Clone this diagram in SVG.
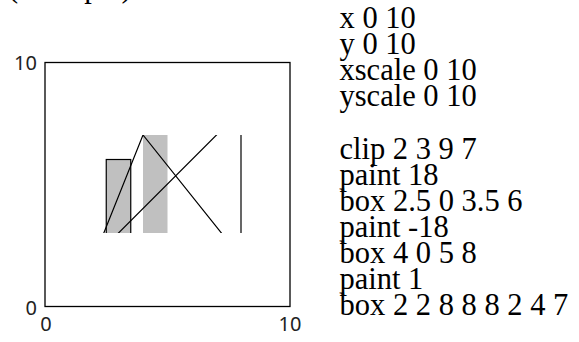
<svg xmlns="http://www.w3.org/2000/svg" width="579" height="342" viewBox="0 0 579 342">
<style>
.ax{font-family:"Noto Sans","DejaVu Sans",sans-serif;font-size:20px;fill:#222}
.cmd{font-family:"Liberation Serif","Times New Roman",serif;font-size:30.5px;fill:#000}
.fill{fill:#c0c0c0}
</style>
<defs>
<clipPath id="clip"><rect x="94" y="135" width="171.5" height="98"/></clipPath>
</defs>
<rect width="579" height="342" fill="#fff"/>
<text class="cmd" x="8" y="-3.5" font-size="32">(example)</text>
<g id="frame">
<rect x="45" y="62.5" width="245" height="244" fill="none" stroke="#000" stroke-width="1.3"/>
<text class="ax" x="37" y="70" text-anchor="end">10</text>
<text class="ax" x="37" y="315" text-anchor="end">0</text>
<text class="ax" x="46" y="331" text-anchor="middle">0</text>
<text class="ax" x="290" y="331" text-anchor="middle">10</text>
</g>
<g id="plot" clip-path="url(#clip)">
<rect id="box1" class="fill" x="106.25" y="159.5" width="24.5" height="147" stroke="#000" stroke-width="1.2"/>
<rect id="box2" class="fill" x="143" y="110.5" width="24.5" height="196"/>
<polyline id="path" points="94,257.5 241,110.5 241,257.5 143,135 94,257.5" fill="none" stroke="#000" stroke-width="1.2"/>
</g>
<g id="commands">
<text class="cmd" x="339.5" y="28">x 0 10</text>
<text class="cmd" x="339.5" y="54">y 0 10</text>
<text class="cmd" x="339.5" y="80">xscale 0 10</text>
<text class="cmd" x="339.5" y="106">yscale 0 10</text>
<text class="cmd" x="339.5" y="159">clip 2 3 9 7</text>
<text class="cmd" x="339.5" y="185">paint 18</text>
<text class="cmd" x="339.5" y="211">box 2.5 0 3.5 6</text>
<text class="cmd" x="339.5" y="237">paint -18</text>
<text class="cmd" x="339.5" y="263">box 4 0 5 8</text>
<text class="cmd" x="339.5" y="289">paint 1</text>
<text class="cmd" x="339.5" y="315">box 2 2 8 8 8 2 4 7</text>
</g>
</svg>
